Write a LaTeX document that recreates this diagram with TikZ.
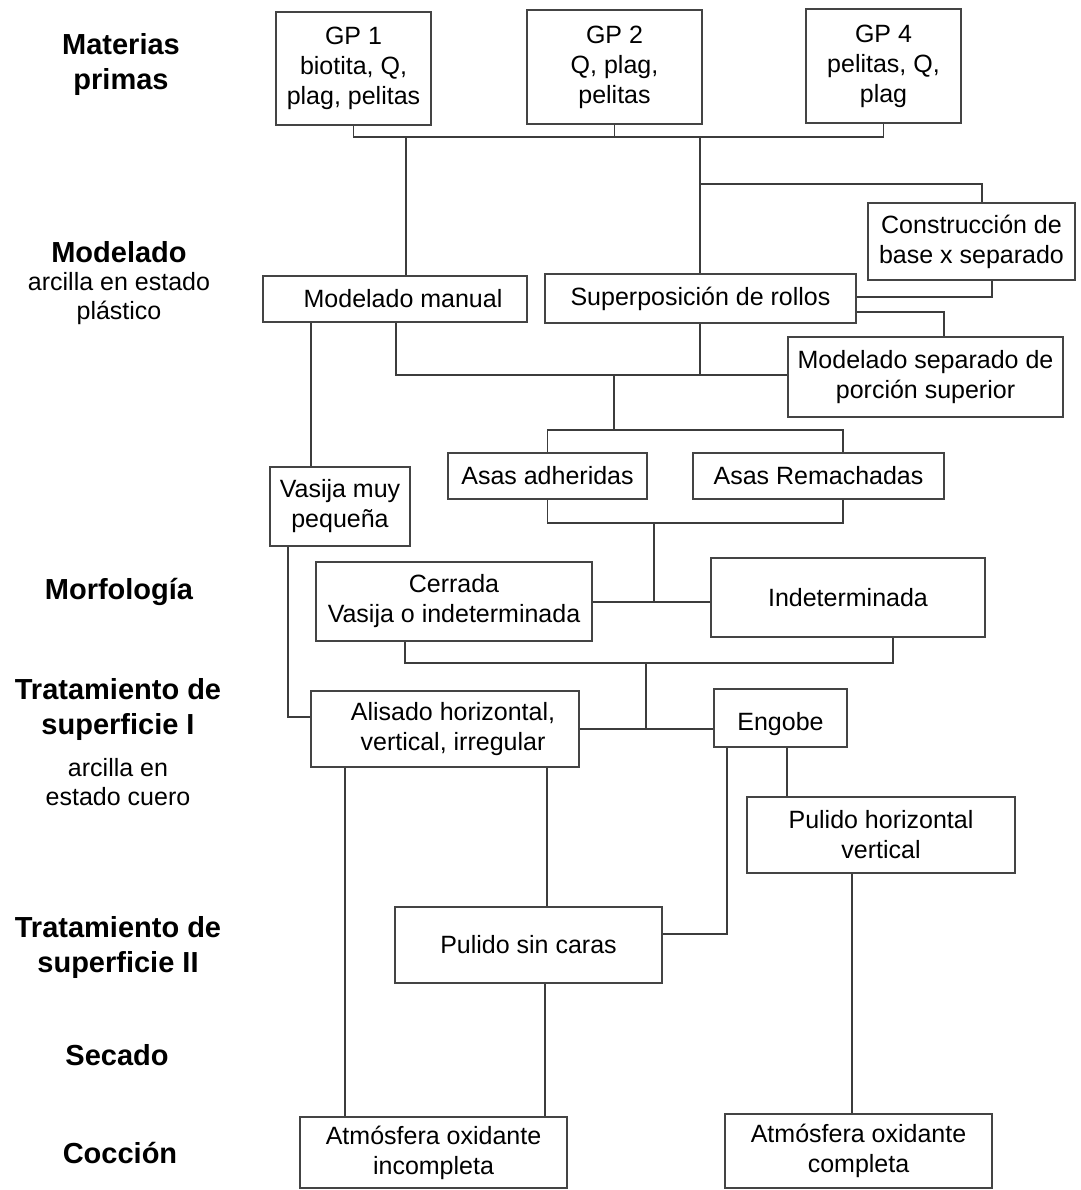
\documentclass[tikz,border=0pt]{standalone}
\usepackage{fontspec}
\setmainfont{Liberation Sans}
\newcommand\bxfont{\fontsize{25}{30}\selectfont}
\newcommand\lblfont{\fontsize{29}{35}\selectfont\bfseries}
\newcommand\subfont{\fontsize{25}{29}\selectfont}
\definecolor{linec}{HTML}{3C3C3C}
\definecolor{boxc}{HTML}{444444}
\tikzset{
  box/.style={draw=boxc, line width=1.4pt, inner sep=0pt, align=center, font=\bxfont},
  lbl/.style={inner sep=0pt, align=center, font=\lblfont},
  sublbl/.style={inner sep=0pt, align=center, font=\subfont},
  conn/.style={draw=linec, line width=1.2pt}
}
\begin{document}
\begin{tikzpicture}[x=1pt,y=-1pt]
\useasboundingbox (0,0) rectangle (1080,1190);
% left labels
\node[lbl] (l1) at (121,65) {Materias\\primas};
\node[lbl] (l2) at (119,252) {Modelado};
\node[sublbl] (l2s) at (119,298.5) {arcilla en estado\\plástico};
\node[lbl] (l3) at (119,592) {Morfología};
\node[lbl] (l4) at (118,709.5) {Tratamiento de\\superficie I};
\node[sublbl] (l4s) at (118,782.5) {arcilla en\\estado cuero};
\node[lbl] (l5) at (118,947.5) {Tratamiento de\\superficie II};
\node[lbl] (l6) at (117,1055) {Secado};
\node[lbl] (l7) at (120,1153) {Cocción};
% boxes
\node[box, minimum width=155, minimum height=113] (gp1) at (353.5,68.5) {GP 1\\biotita, Q,\\plag, pelitas};
\node[box, minimum width=175, minimum height=114] (gp2) at (614.5,67) {GP 2\\Q, plag,\\pelitas};
\node[box, minimum width=155, minimum height=114] (gp4) at (883.5,66) {GP 4\\pelitas, Q,\\plag};
\node[box, minimum width=207, minimum height=77] (constr) at (971.5,241.5) {Construcción de\\base x separado};
\node[box, minimum width=264, minimum height=46] (manual) at (395,299) {\hspace*{16pt}Modelado manual};
\node[box, minimum width=311, minimum height=49] (superp) at (700.5,298.5) {Superposición de rollos};
\node[box, minimum width=275, minimum height=80] (modsep) at (925.5,377) {Modelado separado de\\porción superior};
\node[box, minimum width=140, minimum height=79] (vasija) at (340,506.5) {Vasija muy\\pequeña};
\node[box, minimum width=199, minimum height=46] (adher) at (547.5,476) {Asas adheridas};
\node[box, minimum width=251, minimum height=46] (remach) at (818.5,476) {Asas Remachadas};
\node[box, minimum width=276, minimum height=79] (cerrada) at (454,601.5) {Cerrada\\Vasija o indeterminada};
\node[box, minimum width=274, minimum height=79] (indet) at (848,597.5) {Indeterminada};
\node[box, minimum width=268, minimum height=76] (alisado) at (445,729) {\hspace*{16pt}Alisado horizontal,\\\hspace*{16pt}vertical, irregular};
\node[box, minimum width=133, minimum height=58, text height=25pt, text depth=0pt] (engobe) at (780.5,718) {Engobe};
\node[box, minimum width=268, minimum height=76] (pulhv) at (881,835) {Pulido horizontal\\vertical};
\node[box, minimum width=267, minimum height=76] (pulsc) at (528.5,945) {Pulido sin caras};
\node[box, minimum width=267, minimum height=71] (atminc) at (433.5,1152.5) {Atmósfera oxidante\\incompleta};
\node[box, minimum width=267, minimum height=74] (atmcom) at (858.5,1151) {Atmósfera oxidante\\completa};
% junction coordinates
\coordinate (busA) at (354,137);
\coordinate (j1) at (406,137);
\coordinate (j2) at (700,137);
\coordinate (j3) at (700,184);
\coordinate (c3) at (982,184);
\coordinate (c4) at (992,297);
\coordinate (c5) at (944,312);
\coordinate (m1) at (396,375);
\coordinate (m2) at (614,375);
\coordinate (a1) at (614,430);
\coordinate (a2) at (843,430);
\coordinate (a3) at (654,523);
\coordinate (a4) at (654,602);
\coordinate (v1) at (311,400);
\coordinate (k1) at (405,663);
\coordinate (k2) at (893,663);
\coordinate (k3) at (646,663);
\coordinate (k4) at (646,729);
\coordinate (v2) at (288,717);
\coordinate (e1) at (727,934);
\coordinate (e2) at (787,780);
\coordinate (s1) at (345,900);
\coordinate (s2) at (547,850);
\coordinate (s3) at (545,1050);
\coordinate (s4) at (852,1000);
% connectors
\draw[conn] (gp1.south) -- (gp1.south |- busA) -- (gp4.south |- busA) -- (gp4.south);
\draw[conn] (gp2.south) -- (gp2.south |- busA);
\draw[conn] (j1) -- (j1 |- manual.north);
\draw[conn] (j2) -- (j2 |- superp.north);
\draw[conn] (j3) -- (c3) -- (c3 |- constr.north);
\draw[conn] (c4 |- constr.south) -- (c4) -- (c4 -| superp.east);
\draw[conn] (c5 -| superp.east) -- (c5) -- (c5 |- modsep.north);
\draw[conn] (m1 |- manual.south) -- (m1) -- (m1 -| modsep.west);
\draw[conn] (j2 |- superp.south) -- (j2 |- m1);
\draw[conn] (m2) -- (a1);
\draw[conn] (adher.north) -- (adher.north |- a1) -- (a2) -- (a2 |- remach.north);
\draw[conn] (v1 |- manual.south) -- (v1 |- vasija.north);
\draw[conn] (adher.south) -- (adher.south |- a3) -- (a2 |- a3) -- (a2 |- remach.south);
\draw[conn] (a3) -- (a4);
\draw[conn] (a4 -| cerrada.east) -- (a4 -| indet.west);
\draw[conn] (k1 |- cerrada.south) -- (k1) -- (k2) -- (k2 |- indet.south);
\draw[conn] (k3) -- (k4);
\draw[conn] (k4 -| alisado.east) -- (k4 -| engobe.west);
\draw[conn] (v2 |- vasija.south) -- (v2) -- (v2 -| alisado.west);
\draw[conn] (s1 |- alisado.south) -- (s1 |- atminc.north);
\draw[conn] (s2 |- alisado.south) -- (s2 |- pulsc.north);
\draw[conn] (e2 |- engobe.south) -- (e2 |- pulhv.north);
\draw[conn] (e1 |- engobe.south) -- (e1) -- (e1 -| pulsc.east);
\draw[conn] (s3 |- pulsc.south) -- (s3 |- atminc.north);
\draw[conn] (s4 |- pulhv.south) -- (s4 |- atmcom.north);
\end{tikzpicture}
\end{document}
